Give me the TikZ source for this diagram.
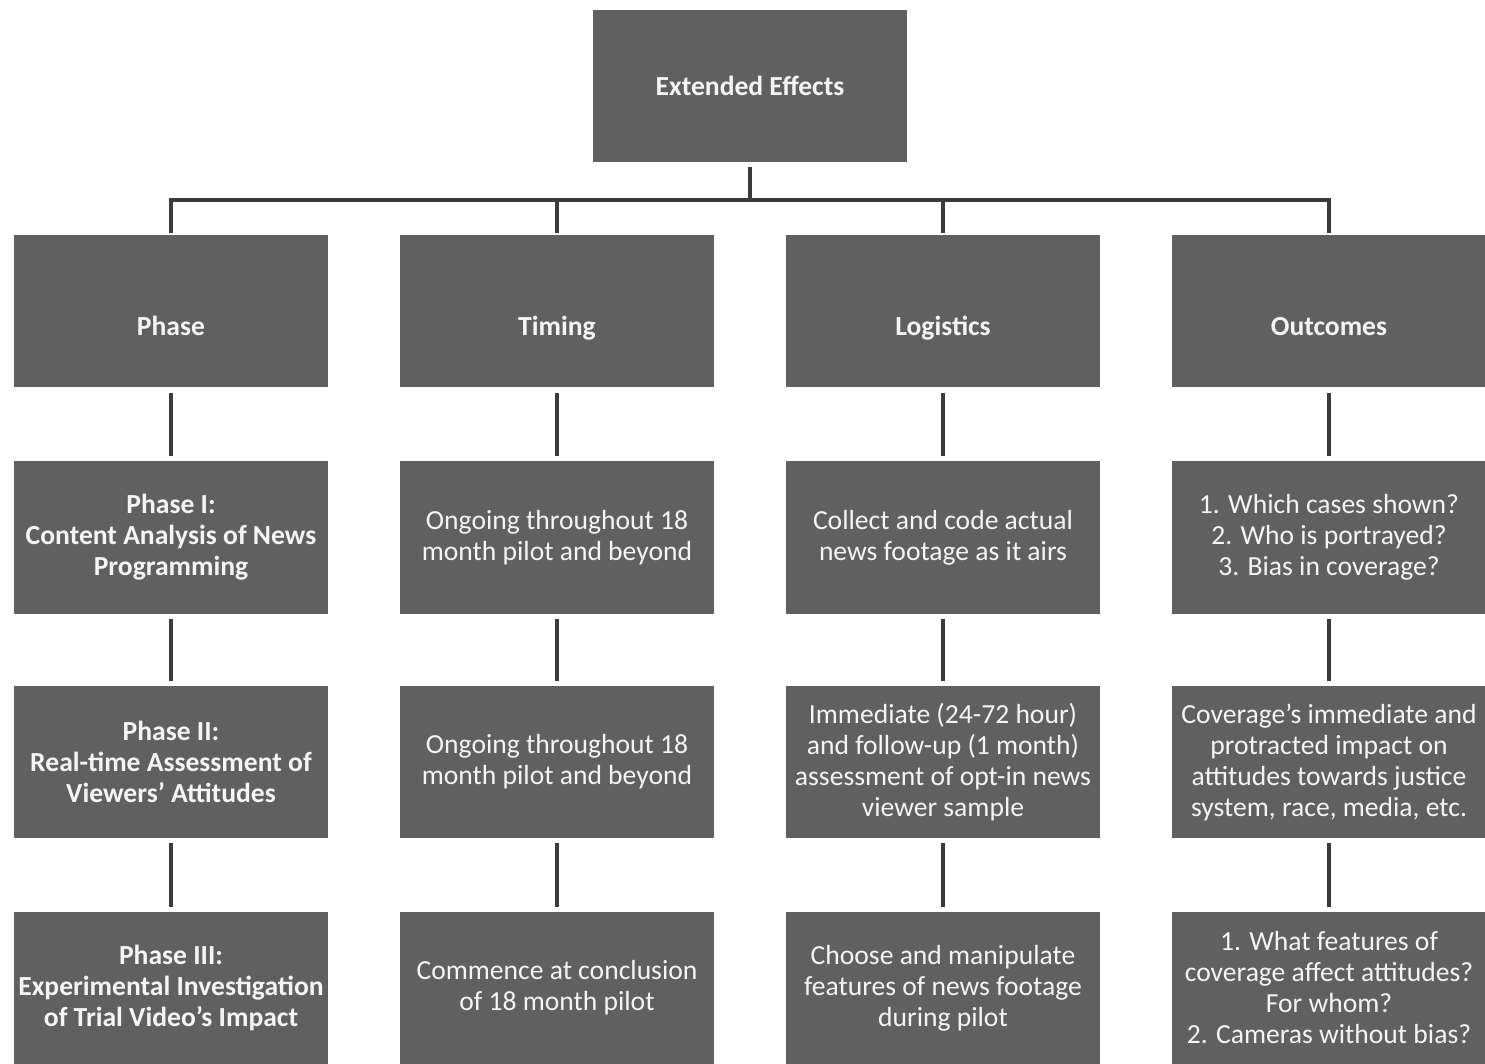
\documentclass[tikz,border=0pt]{standalone}
\usepackage{fontspec}
\setmainfont{Carlito}
\definecolor{boxgray}{RGB}{96,96,96}
\definecolor{linegray}{RGB}{60,60,60}
\definecolor{txt}{RGB}{245,245,245}
\begin{document}
\begin{tikzpicture}[x=0.5pt,y=-0.5pt,
  box/.style={fill=boxgray, minimum width=157pt, minimum height=76pt, inner sep=0pt,
    text=txt, align=center, font=\fontsize{13.8}{15.5}\selectfont},
  boldbox/.style={box, font=\fontsize{13.8}{15.5}\selectfont\bfseries},
  hdr/.style={boldbox, text height=24pt, text depth=0pt},
  link/.style={draw=linegray, line width=2pt},
  vlink/.style={link, shorten <=2.5pt, shorten >=2.5pt}]
\useasboundingbox (0,0) rectangle (1485,1064);
% top
\node[boldbox] (top) at (750,86) {Extended Effects};
% headers
\node[hdr] (h1) at (171,311.5) {Phase};
\node[hdr] (h2) at (557,311.5) {Timing};
\node[hdr] (h3) at (943,311.5) {Logistics};
\node[hdr] (h4) at (1329,311.5) {Outcomes};
% row 2
\node[boldbox] (a1) at (171,537.5) {Phase I:\\Content Analysis of News\\Programming};
\node[box] (a2) at (557,537.5) {Ongoing throughout 18\\month pilot and beyond};
\node[box] (a3) at (943,537.5) {Collect and code actual\\news footage as it airs};
\node[box] (a4) at (1329,537.5) {1. Which cases shown?\\2. Who is portrayed?\\3. Bias in coverage?};
% row 3
\node[boldbox] (b1) at (171,762) {Phase II:\\Real-time Assessment of\\Viewers’ Attitudes};
\node[box] (b2) at (557,762) {Ongoing throughout 18\\month pilot and beyond};
\node[box] (b3) at (943,762) {Immediate (24-72 hour)\\and follow-up (1 month)\\assessment of opt-in news\\viewer sample};
\node[box] (b4) at (1329,762) {Coverage’s immediate and\\protracted impact on\\attitudes towards justice\\system, race, media, etc.};
% row 4
\node[boldbox] (c1) at (171,988) {Phase III:\\Experimental Investigation\\of Trial Video’s Impact};
\node[box] (c2) at (557,988) {Commence at conclusion\\of 18 month pilot};
\node[box] (c3) at (943,988) {Choose and manipulate\\features of news footage\\during pilot};
\node[box] (c4) at (1329,988) {1. What features of\\coverage affect attitudes?\\For whom?\\2. Cameras without bias?};
% tree
\coordinate (bus) at (750,200);
\draw[link, shorten <=2.5pt] (top.south) -- (bus);
\draw[link, shorten >=1pt] (bus) -| (h1.north);
\draw[link, shorten >=1pt] (bus) -| (h2.north);
\draw[link, shorten >=1pt] (bus) -| (h3.north);
\draw[link, shorten >=1pt] (bus) -| (h4.north);
% column links
\foreach \c in {1,2,3,4}{
  \draw[vlink] (h\c.south) -- (a\c.north);
  \draw[vlink] (a\c.south) -- (b\c.north);
  \draw[vlink] (b\c.south) -- (c\c.north);
}
\end{tikzpicture}
\end{document}
